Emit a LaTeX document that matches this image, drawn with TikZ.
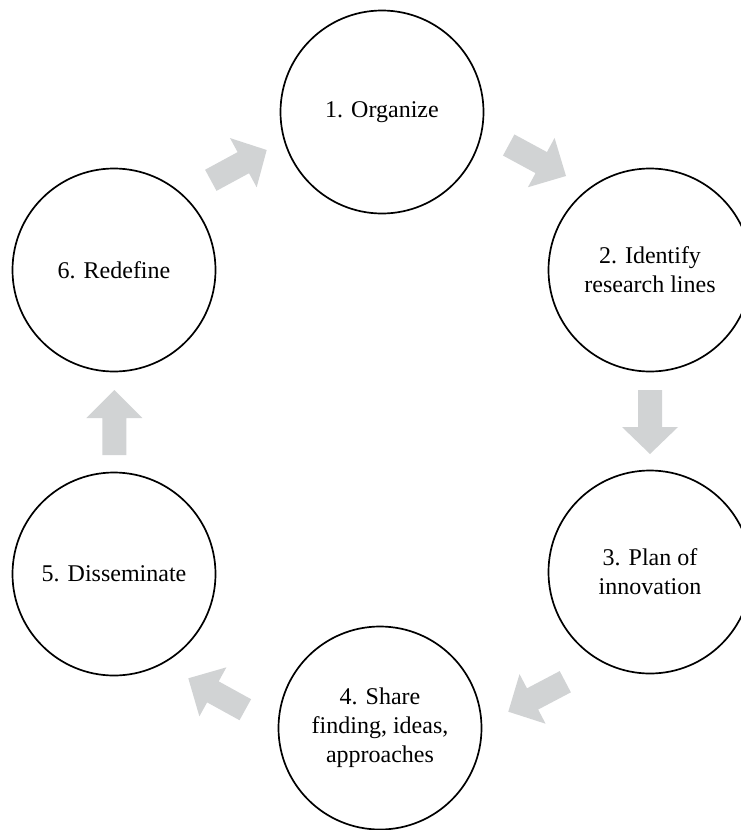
\documentclass[tikz,border=0pt]{standalone}
\usepackage{fontspec}
\setmainfont{Liberation Serif}
\usetikzlibrary{calc}
\definecolor{arrowgray}{RGB}{209,211,212}
\tikzset{
  stage/.style={circle, draw=black, line width=1.7pt, minimum size=203pt, inner sep=0pt,
    align=center, font=\fontsize{24}{29}\selectfont},
}
\newcommand{\blockarrow}[2]{%
  \coordinate (#1#2h) at ($(#1)!37pt!(#2)$);
  \fill[arrowgray] ($(#1)!12pt!90:(#2)$) -- ($(#1#2h)!12pt!90:(#2)$) -- ($(#1#2h)!28pt!90:(#2)$)
    -- (#2) -- ($(#1#2h)!28pt!-90:(#2)$) -- ($(#1#2h)!12pt!-90:(#2)$) -- ($(#1)!12pt!-90:(#2)$) -- cycle;}
\begin{document}
\begin{tikzpicture}[x=1pt,y=-1pt]
\clip (0,0) rectangle (741,830);
\node[stage] (c1) at (382,112) {1. Organize};
\node[stage] (c2) at (650,270) {2. Identify\\research lines};
\node[stage] (c3) at (650,572) {3. Plan of\\innovation};
\node[stage] (c4) at (380,728) {4. Share\\finding, ideas,\\approaches};
\node[stage] (c5) at (114,574) {5. Disseminate};
\node[stage] (c6) at (114,270) {6. Redefine};
% arrow end points
\coordinate (t61) at (210.8,180.3); \coordinate (h61) at (266.7,150);
\coordinate (t12) at (508.7,145);   \coordinate (h12) at (566,176);
\coordinate (t23) at (650,390);     \coordinate (h23) at (650,454);
\coordinate (t34) at (565.3,681.7); \coordinate (h34) at (508.3,711.7);
\coordinate (t45) at (245.3,709.7); \coordinate (h45) at (188.3,678.3);
\coordinate (t56) at (114.3,455);   \coordinate (h56) at (114.3,390);
\blockarrow{t61}{h61}
\blockarrow{t12}{h12}
\blockarrow{t23}{h23}
\blockarrow{t34}{h34}
\blockarrow{t45}{h45}
\blockarrow{t56}{h56}
\end{tikzpicture}
\end{document}
